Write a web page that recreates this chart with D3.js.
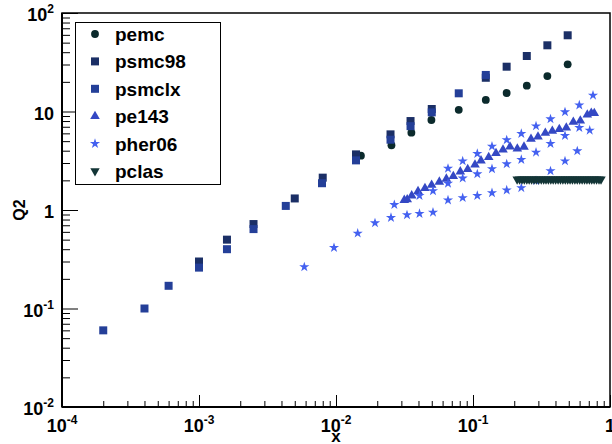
<!DOCTYPE html>
<html>
<head>
<meta charset="utf-8">
<script src="https://cdn.jsdelivr.net/npm/d3@7"></script>
<style>
  body { margin: 0; background: #fff; }
  svg { display: block; font-family: "Liberation Sans", Arial, sans-serif; font-weight: bold; }
</style>
</head>
<body>
<div id="chart"></div>
<script>
// values
const pemcX = [0.0152, 0.0254, 0.0355, 0.0497, 0.0787, 0.124, 0.176, 0.247, 0.349, 0.491];
const pemcQ2 = [3.56, 4.54, 6.1, 8.2, 10.4, 13.1, 15.4, 18.3, 22.9, 30.1];

const psmc98X = [0.001, 0.0016, 0.0025, 0.005, 0.008, 0.014, 0.025, 0.035, 0.05, 0.124, 0.176, 0.247, 0.349, 0.491];
const psmc98Q2 = [0.30, 0.50, 0.72, 1.31, 2.13, 3.67, 5.86, 8.0, 10.6, 22.0, 28.5, 36.6, 47, 59.4];

const psmclxX = [0.0002, 0.0004, 0.0006, 0.001, 0.0016, 0.0025, 0.0043, 0.0079, 0.014, 0.025, 0.035, 0.05, 0.0787, 0.124];
const psmclxQ2 = [0.06, 0.10, 0.17, 0.26, 0.40, 0.64, 1.1, 1.87, 3.19, 5.17, 7.1, 9.8, 15.3, 23.5];

const pe143X = [0.0315, 0.0331, 0.0357, 0.0397, 0.0446, 0.0499, 0.0568, 0.0639, 0.0718, 0.0808,
  0.0915, 0.1034, 0.1144, 0.1302, 0.1472, 0.1656, 0.1863, 0.2106, 0.2356, 0.2651,
  0.2982, 0.3372, 0.3793, 0.4266, 0.4798, 0.5398, 0.6072, 0.6829, 0.7303, 0.768];
const pe143Q2 = [1.26, 1.28, 1.40, 1.55, 1.66, 1.79, 1.93, 2.07, 2.20, 2.45,
  2.59, 2.88, 3.17, 3.43, 3.76, 4.09, 4.39, 4.19, 4.37, 5.26,
  5.55, 6.05, 6.34, 6.60, 6.85, 7.82, 8.06, 9.28, 9.66, 9.59];

const pher06X = [
  0.0657, 0.0841, 0.1075, 0.1376, 0.1762, 0.2252, 0.2884, 0.3679, 0.4694, 0.597, 0.7515,
  0.02665, 0.04069, 0.05105, 0.0657, 0.0841, 0.1075, 0.1376, 0.1762, 0.2252, 0.2884, 0.3679, 0.4694, 0.597,
  0.00587, 0.00967, 0.0144, 0.01926, 0.0252, 0.03298, 0.04069, 0.05105, 0.0657, 0.0841, 0.1075, 0.1376,
  0.1762, 0.2252, 0.2884, 0.3679, 0.4694, 0.577, 0.711];
const pher06Q2 = [
  2.64, 3.14, 3.73, 4.43, 5.14, 5.95, 7.12, 8.39, 9.88, 11.6, 14.6,
  1.13, 1.40, 1.56, 1.86, 2.10, 2.32, 2.61, 2.93, 3.24, 3.85, 4.71, 5.68, 6.85,
  0.264, 0.414, 0.580, 0.738, 0.835, 0.890, 0.917, 0.947, 1.26, 1.33, 1.40, 1.49,
  1.59, 1.68, 1.98, 2.49, 3.14, 3.97, 6.44];

const pclasX = [0.210, 0.219, 0.228, 0.237, 0.247, 0.257, 0.268, 0.279, 0.290, 0.302, 0.315, 0.328,
  0.341, 0.355, 0.370, 0.385, 0.401, 0.418, 0.435, 0.453, 0.472, 0.491, 0.511, 0.532,
  0.554, 0.577, 0.601, 0.626, 0.652, 0.679, 0.707, 0.736, 0.766, 0.798, 0.831, 0.860];
const pclasQ2 = [2.05, 2.05, 2.05, 2.05, 2.05, 2.05, 2.05, 2.05, 2.05, 2.05, 2.05, 2.05,
  2.05, 2.05, 2.05, 2.05, 2.05, 2.05, 2.05, 2.05, 2.05, 2.05, 2.05, 2.05,
  2.05, 2.05, 2.05, 2.05, 2.05, 2.05, 2.05, 2.05, 2.05, 2.05, 2.05, 2.05];

const xMajor = [-4, -3, -2, -1, 0];
const yMajor = [-2, -1, 0, 1, 2];

const width = 612, height = 444;
const m = { left: 62, right: 610, top: 13, bottom: 407 };

const svg = d3.select("#chart").append("svg")
    .attr("width", width)
    .attr("height", height);

const x = d3.scaleLog().domain([1e-4, 1]).range([m.left, m.right]);
const y = d3.scaleLog().domain([1e-2, 1e2]).range([m.bottom, m.top]);

function minors(lo, hi) {
    const out = [];
    for (let e = lo; e < hi; e++)
        for (let k = 2; k <= 9; k++) out.push(k * Math.pow(10, e));
    return out;
}

// frame
svg.append("rect")
    .attr("x", m.left).attr("y", m.top)
    .attr("width", m.right - m.left).attr("height", m.bottom - m.top)
    .attr("fill", "none").attr("stroke", "#000").attr("stroke-width", 1.5);

// x axis ticks
const xAxisMinor = d3.axisBottom(x).tickValues(minors(-4, 0)).tickSize(-6).tickFormat("");
const xAxisMajor = d3.axisBottom(x).tickValues(xMajor.map(e => Math.pow(10, e))).tickSize(-12).tickFormat("");
[xAxisMinor, xAxisMajor].forEach(ax => {
    const g = svg.append("g").attr("transform", `translate(0,${m.bottom})`).call(ax);
    g.select(".domain").remove();
    g.selectAll("line").attr("stroke", "#000").attr("stroke-width", 1);
});

// y axis ticks
const yAxisMinor = d3.axisLeft(y).tickValues(minors(-2, 2)).tickSize(-8).tickFormat("");
const yAxisMajor = d3.axisLeft(y).tickValues(yMajor.map(e => Math.pow(10, e))).tickSize(-16).tickFormat("");
[yAxisMinor, yAxisMajor].forEach(ax => {
    const g = svg.append("g").attr("transform", `translate(${m.left},0)`).call(ax);
    g.select(".domain").remove();
    g.selectAll("line").attr("stroke", "#000").attr("stroke-width", 1);
});

svg.append("line")
    .attr("x1", m.left).attr("x2", m.left).attr("y1", m.top).attr("y2", m.bottom)
    .attr("stroke", "#000").attr("stroke-width", 2);
svg.append("line")
    .attr("x1", m.left).attr("x2", m.right).attr("y1", m.bottom).attr("y2", m.bottom)
    .attr("stroke", "#000").attr("stroke-width", 2);

// tick labels, power-of-ten form
function powLabel(sel, e) {
    if (e === 0) { sel.append("tspan").text("1"); return; }
    if (e === 1) { sel.append("tspan").text("10"); return; }
    sel.append("tspan").text("10");
    sel.append("tspan").attr("font-size", 12).attr("dy", -8).text(e);
}

svg.append("g").selectAll("text")
    .data(xMajor)
    .join("text")
    .attr("x", d => x(Math.pow(10, d)))
    .attr("y", 432)
    .attr("text-anchor", "middle")
    .attr("font-size", 18)
    .each(function(d) { powLabel(d3.select(this), d); });

svg.append("g").selectAll("text")
    .data(yMajor)
    .join("text")
    .attr("x", 54)
    .attr("y", d => y(Math.pow(10, d)) + 8)
    .attr("text-anchor", "end")
    .attr("font-size", 18)
    .each(function(d) { powLabel(d3.select(this), d); });

svg.append("text")
    .attr("x", (m.left + m.right) / 2).attr("y", 442)
    .attr("text-anchor", "middle").attr("font-size", 17)
    .text("x");

svg.append("text")
    .attr("transform", `translate(25,${(m.top + m.bottom) / 2}) rotate(-90)`)
    .attr("text-anchor", "middle").attr("font-size", 16)
    .text("Q2");

// series
const series = [
    { name: "pemc", xs: pemcX, ys: pemcQ2, color: "#0b2a2c", sym: d3.symbolCircle, size: 48, rot: 0 },
    { name: "psmc98", xs: psmc98X, ys: psmc98Q2, color: "#1b2f66", sym: d3.symbolSquare, size: 64, rot: 0 },
    { name: "psmclx", xs: psmclxX, ys: psmclxQ2, color: "#243f98", sym: d3.symbolSquare, size: 64, rot: 0 },
    { name: "pe143", xs: pe143X, ys: pe143Q2, color: "#3448c4", sym: d3.symbolTriangle, size: 40, rot: 0 },
    { name: "pher06", xs: pher06X, ys: pher06Q2, color: "#4461f0", sym: d3.symbolStar, size: 32, rot: 0 },
    { name: "pclas", xs: pclasX, ys: pclasQ2, color: "#133536", sym: d3.symbolTriangle, size: 38, rot: 180 },
];

const plot = svg.append("g");
series.forEach(s => {
    const pts = s.xs.map((v, i) => [v, s.ys[i]]);
    plot.append("g").selectAll("path")
        .data(pts)
        .join("path")
        .attr("d", d3.symbol().type(s.sym).size(s.size))
        .attr("transform", d => `translate(${x(d[0])},${y(d[1])}) rotate(${s.rot})`)
        .attr("fill", s.color);
});

// legend
const lg = svg.append("g");
lg.append("rect")
    .attr("x", 75.5).attr("y", 22.5).attr("width", 145).attr("height", 162)
    .attr("fill", "#fff").attr("stroke", "#000").attr("stroke-width", 1);

const rows = lg.selectAll("g.row")
    .data(series)
    .join("g")
    .attr("class", "row")
    .attr("transform", (d, i) => `translate(0,${34 + i * 27.4})`);

rows.append("path")
    .attr("d", d => d3.symbol().type(d.sym).size(d.size)())
    .attr("transform", d => `translate(95,0) rotate(${d.rot})`)
    .attr("fill", d => d.color);

rows.append("text")
    .attr("x", 115).attr("y", 7)
    .attr("font-size", 19)
    .text(d => d.name);
</script>
</body>
</html>
